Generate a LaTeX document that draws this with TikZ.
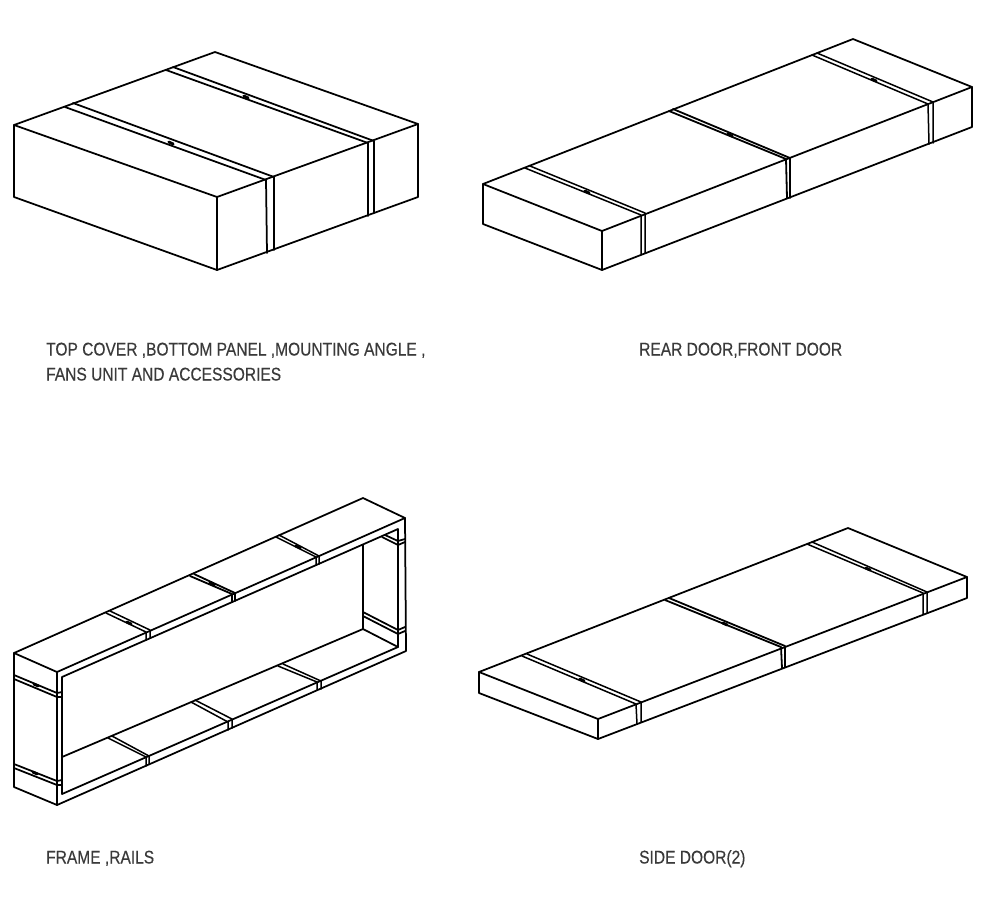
\documentclass[tikz,border=0pt]{standalone}
\usepackage{fontspec}
\setmainfont[FakeStretch=0.845,FakeBold=0.25]{Liberation Sans}
\definecolor{labelgrey}{HTML}{3A3A3A}
\tikzset{
  ln/.style={line width=1.75pt,black,line join=round,line cap=round},
  thin ln/.style={line width=1.5pt,black,line join=round,line cap=round},
  heavy ln/.style={line width=1.8pt,black,line join=round,line cap=round},
  buckle/.style={line width=2.8pt,black,line cap=round},
  lbl/.style={anchor=base west,inner sep=0pt,text=labelgrey,font=\fontsize{18.4}{25}\selectfont}
}
% #1 style, #2 back outer, #3 back inner, #4 front outer, #5 front inner, #6 down outer, #7 down inner
\newcommand{\bandlines}[7][ln]{%
  \draw[#1] #2 -- #4 -- #6;
  \draw[#1] #3 -- #5 -- #7;
}
\newcommand{\bucklemark}[1]{\draw[buckle] ($#1+(-2.2,-1)$) -- ($#1+(2.2,1)$);}
\usetikzlibrary{calc}
\begin{document}
\begin{tikzpicture}[x=1pt,y=-1pt]
\useasboundingbox (0,0) rectangle (1000,911);
\fill[white] (0,0) rectangle (1000,911);

% ---------- Box 1 ----------
\draw[ln] (14,125) -- (215,52) -- (418,124) -- (418,197) -- (217,270) -- (14,197) -- cycle;
\draw[ln] (14,125) -- (217,197) -- (418,124);
\draw[ln] (217,197) -- (217,270);
\bandlines{(65,107)}{(73,103)}{(266,180)}{(274,177)}{(267,253)}{(274,250)}
\bandlines{(166,70)}{(173,67)}{(368,143)}{(374,141)}{(368,216)}{(374,213)}
\bucklemark{(171,143)}
\bucklemark{(246,97)}

% ---------- Box 2 ----------
\draw[ln] (483,184) -- (853,39) -- (972,87) -- (972,127) -- (602,270) -- (483,224) -- cycle;
\draw[ln] (483,184) -- (602,231) -- (972,87);
\draw[ln] (602,231) -- (602,270);
\bandlines[thin ln]{(525,168)}{(530,166)}{(641,215)}{(645,213)}{(641,254)}{(645,253)}
\bandlines[heavy ln]{(669,111)}{(673,109)}{(786,159)}{(790,158)}{(787,198)}{(790,198)}
\bandlines[thin ln]{(812,55)}{(817,53)}{(928,104)}{(933,102)}{(929,144)}{(933,143)}
\bucklemark{(587,192)}
\bucklemark{(730,135)}
\bucklemark{(874,80)}

% ---------- Frame ----------
\draw[ln] (14,653) -- (363,498) -- (405,518) -- (406,651) -- (57,805) -- (14,787) -- cycle;
\draw[ln] (14,653) -- (57,672) -- (405,518);
\draw[ln] (57,672) -- (57,805);
\draw[ln] (62,677) -- (398,529) -- (398,647) -- (62,794) -- cycle;
\draw[ln] (363,545) -- (363,629) -- (398,647);
\draw[ln] (62,757) -- (363,629);
% top rail bands
\bandlines[thin ln]{(106,613)}{(110,611)}{(146,632)}{(150,630)}{(146,640)}{(150,638)}
\bandlines[heavy ln]{(190,576)}{(194,574)}{(232,594)}{(235,593)}{(232,602)}{(235,601)}
\bandlines[thin ln]{(276,537)}{(279,535)}{(316,557)}{(319,556)}{(316,565)}{(319,564)}
\bucklemark{(129,623)}
\bucklemark{(212,584)}
\bucklemark{(298,547)}
% bottom rail bands
\bandlines[thin ln]{(108,738)}{(112,736)}{(146,757)}{(149,756)}{(146,766)}{(149,764)}
\bandlines[thin ln]{(191,702)}{(195,700)}{(228,722)}{(232,719)}{(228,730)}{(232,728)}
\bandlines[thin ln]{(278,666)}{(283,664)}{(317,682)}{(321,681)}{(317,690)}{(321,689)}
% left end bands
\draw[ln] (14,675) -- (57,693) -- (62,692);
\draw[ln] (14,679) -- (57,697) -- (62,697);
\draw[ln] (14,764) -- (57,781) -- (62,780);
\draw[ln] (14,768) -- (57,785) -- (62,785);
\bucklemark{(36,685)}
\bucklemark{(35,773)}
% right end bands
\draw[ln] (382,537) -- (398,545) -- (405,542);
\draw[ln] (385,535) -- (398,541) -- (405,539);
\draw[ln] (363,612) -- (398,630) -- (405,627);
\draw[ln] (363,616) -- (398,634) -- (405,631);

% ---------- Box 4 ----------
\draw[ln] (479,672) -- (848,528) -- (967,577) -- (967,598) -- (598,739) -- (479,693) -- cycle;
\draw[ln] (479,672) -- (598,719) -- (967,577);
\draw[ln] (598,719) -- (598,739);
\bandlines[thin ln]{(522,656)}{(527,654)}{(636,704)}{(641,702)}{(637,724)}{(641,722)}
\bandlines[heavy ln]{(665,600)}{(669,598)}{(781,647)}{(785,646)}{(782,668)}{(785,667)}
\bandlines[thin ln]{(807,544)}{(812,542)}{(923,593)}{(927,592)}{(923,614)}{(927,613)}
\bucklemark{(582,680)}
\bucklemark{(725,624)}
\bucklemark{(868,569)}

% ---------- Labels ----------
\node[lbl] (l1) at (46,355.5) {TOP COVER ,BOTTOM PANEL ,MOUNTING ANGLE ,};
\node[lbl] (l1b) at (46,380.5) {FANS UNIT AND ACCESSORIES};
\node[lbl] (l2) at (639,355.5) {REAR DOOR,FRONT DOOR};
\node[lbl] (l3) at (46,863.5) {FRAME ,RAILS};
\node[lbl] (l4) at (639,863.5) {SIDE DOOR(2)};
\end{tikzpicture}
\end{document}
